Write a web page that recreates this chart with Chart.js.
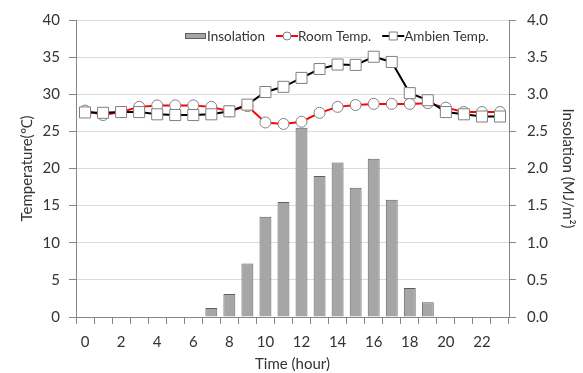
<!DOCTYPE html>
<html>
<head>
<meta charset="utf-8">
<script src="https://cdn.jsdelivr.net/npm/chart.js@4.4.0/dist/chart.umd.min.js"></script>
<style>
  html, body { margin: 0; padding: 0; background: #fff; }
  #wrap { width: 583px; height: 373px; }
</style>
</head>
<body>
<div id="wrap"><canvas id="chart" width="583" height="373"></canvas></div>
<script>
// Data
const hours = ['0', '1', '2', '3', '4', '5', '6', '7', '8', '9', '10', '11',
               '12', '13', '14', '15', '16', '17', '18', '19', '20', '21', '22', '23'];
const insolation = [0, 0, 0, 0, 0, 0, 0, 0.12, 0.31, 0.72, 1.35, 1.55,
                    2.55, 1.9, 2.08, 1.74, 2.13, 1.58, 0.39, 0.2, 0, 0, 0, 0];
const roomTemp = [27.8, 27.2, 27.6, 28.3, 28.5, 28.5, 28.5, 28.3, 27.7, 28.4, 26.2, 26.0,
                  26.3, 27.5, 28.3, 28.55, 28.7, 28.7, 28.7, 28.8, 28.2, 27.6, 27.6, 27.6];
const ambientTemp = [27.55, 27.5, 27.6, 27.6, 27.3, 27.2, 27.2, 27.3, 27.7, 28.6, 30.3, 31.0,
                     32.2, 33.4, 34.0, 33.95, 35.05, 34.35, 30.15, 29.2, 27.6, 27.3, 27.0, 27.0];

const FONT = 'Lato, "Open Sans", sans-serif';
const TEXT = '#333333';
const AXIS = '#868686';

// Legend drawn inside the plot, top right
const innerLegend = {
    id: 'innerLegend',
    afterDraw(chart) {
        const ctx = chart.ctx;
        const sets = chart.data.datasets;
        const y = chart.chartArea.top + 16;
        let x = 185;
        ctx.save();
        ctx.font = '13.5px ' + FONT;
        ctx.textBaseline = 'middle';
        ctx.textAlign = 'left';
        sets.forEach(ds => {
            if (ds.type === 'bar') {
                ctx.fillStyle = ds.backgroundColor;
                ctx.strokeStyle = ds.borderColor;
                ctx.lineWidth = 1;
                ctx.fillRect(x, y - 3, 21, 6);
                ctx.strokeRect(x + 0.5, y - 2.5, 20, 5);
            } else {
                ctx.strokeStyle = ds.borderColor;
                ctx.lineWidth = 2;
                ctx.beginPath();
                ctx.moveTo(x, y);
                ctx.lineTo(x + 22, y);
                ctx.stroke();
                ctx.fillStyle = '#fff';
                ctx.strokeStyle = ds.pointBorderColor;
                ctx.lineWidth = 1;
                ctx.beginPath();
                if (ds.pointStyle === 'rect') {
                    ctx.rect(x + 7, y - 4, 8, 8);
                } else {
                    ctx.arc(x + 11, y, 4, 0, Math.PI * 2);
                }
                ctx.fill();
                ctx.stroke();
            }
            x += 22;
            ctx.fillStyle = TEXT;
            ctx.fillText(ds.label, x, y + 0.5);
            x += ctx.measureText(ds.label).width + 11;
        });
        ctx.restore();
    }
};

const ctx = document.getElementById('chart').getContext('2d');
new Chart(ctx, {
    data: {
        labels: hours,
        datasets: [
            {
                type: 'bar',
                label: 'Insolation',
                data: insolation,
                yAxisID: 'y1',
                backgroundColor: '#a6a6a6',
                borderColor: '#5f5f5f',
                borderWidth: 1,
                barPercentage: 0.66,
                categoryPercentage: 1,
                order: 3
            },
            {
                type: 'line',
                label: 'Room Temp.',
                data: roomTemp,
                yAxisID: 'y',
                borderColor: '#ff0000',
                borderWidth: 2,
                tension: 0,
                pointStyle: 'circle',
                pointRadius: 5.5,
                pointBackgroundColor: '#ffffff',
                pointBorderColor: '#808080',
                pointBorderWidth: 1,
                order: 2
            },
            {
                type: 'line',
                label: 'Ambien Temp.',
                data: ambientTemp,
                yAxisID: 'y',
                borderColor: '#000000',
                borderWidth: 2,
                tension: 0,
                pointStyle: 'rect',
                pointRadius: 7.8,
                pointBackgroundColor: '#ffffff',
                pointBorderColor: '#808080',
                pointBorderWidth: 1,
                order: 1
            }
        ]
    },
    options: {
        responsive: false,
        animation: false,
        layout: { padding: { top: 15, left: 0, right: 0, bottom: 0 } },
        plugins: {
            legend: { display: false },
            tooltip: { enabled: false }
        },
        scales: {
            x: {
                type: 'category',
                offset: true,
                afterFit(scale) { scale.height = 56; },
                grid: {
                    offset: true,
                    drawOnChartArea: false,
                    tickLength: 7,
                    tickColor: AXIS
                },
                border: { color: AXIS, width: 1 },
                ticks: {
                    autoSkip: false,
                    maxRotation: 0,
                    padding: 9,
                    color: TEXT,
                    font: { family: FONT, size: 15 },
                    callback(v, i) { return i % 2 === 0 ? hours[i] : ''; }
                },
                title: {
                    display: true,
                    text: 'Time (hour)',
                    color: TEXT,
                    font: { family: FONT, size: 15 },
                    padding: { top: 0, bottom: 0 }
                }
            },
            y: {
                position: 'left',
                min: 0,
                max: 40,
                afterFit(scale) { scale.width = 76; },
                grid: {
                    color: '#dcdcdc',
                    tickColor: AXIS,
                    tickLength: 7
                },
                border: { color: AXIS, width: 1 },
                ticks: {
                    stepSize: 5,
                    padding: 9,
                    color: TEXT,
                    font: { family: FONT, size: 15 }
                },
                title: {
                    display: true,
                    text: 'Temperature(℃)',
                    color: TEXT,
                    font: { family: FONT, size: 15 },
                    padding: { top: 18, bottom: 0 }
                }
            },
            y1: {
                position: 'right',
                min: 0,
                max: 4,
                afterFit(scale) { scale.width = 74; },
                grid: {
                    drawOnChartArea: false,
                    tickColor: AXIS,
                    tickLength: 7
                },
                border: { color: AXIS, width: 1 },
                ticks: {
                    stepSize: 0.5,
                    padding: 11,
                    color: TEXT,
                    font: { family: FONT, size: 15 },
                    callback(v) { return v.toFixed(1); }
                },
                title: {
                    display: true,
                    text: 'Insolation (MJ/m²)',
                    color: TEXT,
                    font: { family: FONT, size: 15 },
                    padding: { top: 6, bottom: 0 }
                }
            }
        }
    },
    plugins: [innerLegend]
});
</script>
</body>
</html>
